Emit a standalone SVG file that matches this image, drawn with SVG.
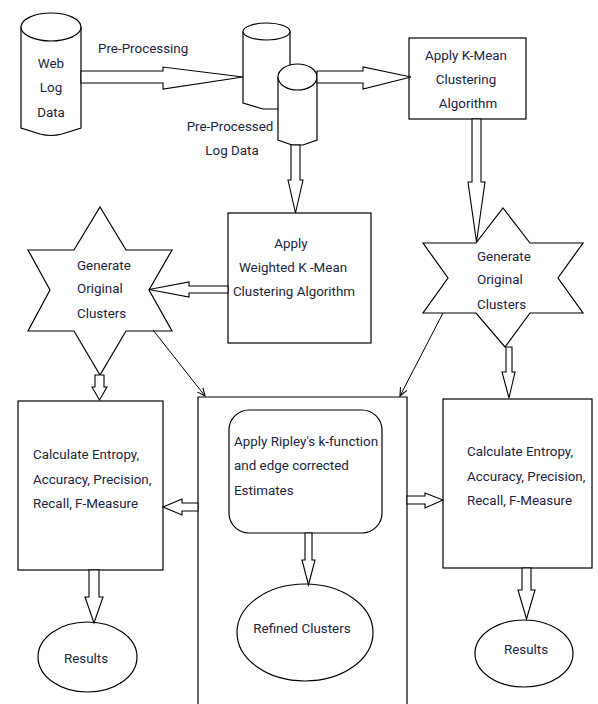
<svg xmlns="http://www.w3.org/2000/svg" width="598" height="704" viewBox="0 0 598 704">
<defs>
<style>
.s{fill:#fff;stroke:#000;stroke-width:1.2}
.a{fill:#fff;stroke:#000;stroke-width:1.1;stroke-linejoin:miter}
.l{fill:none;stroke:#000;stroke-width:1}
text{font-family:Roboto,"Liberation Sans",Arial,sans-serif;font-size:13.4px;fill:#1c2540}
.m{text-anchor:middle}
</style>
<marker id="v" viewBox="0 0 10 10" refX="9" refY="5" markerWidth="9" markerHeight="9" orient="auto" markerUnits="userSpaceOnUse">
<path d="M0,1 L9,5 L0,9" fill="none" stroke="#000" stroke-width="1.2"/>
</marker>
</defs>
<rect width="598" height="704" fill="#fff"/>

<g id="web-log-data">
<path class="s" d="M21,27 L21,128 L40,134 Q51,137 62,134 L81,128 L81,27"/>
<ellipse class="s" cx="51" cy="27" rx="30" ry="14"/>
<text class="m" x="51" y="68">Web</text>
<text class="m" x="51" y="92">Log</text>
<text class="m" x="51" y="117">Data</text>
</g>

<g id="pre-processed-log-data">
<path class="s" d="M243,31.5 L243,103 L263,109 L290,109 L290,31.5"/>
<ellipse class="s" cx="266.5" cy="31.5" rx="23.5" ry="8.5"/>
<path class="s" d="M278,77 L278,140 L292,145 L303,145 L317,140 L317,77"/>
<ellipse class="s" cx="297.5" cy="77" rx="19.5" ry="13"/>
<text class="m" x="230" y="131">Pre-Processed</text>
<text class="m" x="232" y="155">Log Data</text>
</g>

<g id="apply-kmean">
<rect class="s" x="409" y="38" width="117" height="81"/>
<text class="m" x="466" y="60">Apply K-Mean</text>
<text class="m" x="466" y="84">Clustering</text>
<text class="m" x="468" y="108">Algorithm</text>
</g>

<g id="apply-weighted-kmean">
<rect class="s" x="228" y="213" width="143" height="130"/>
<text class="m" x="291" y="248">Apply</text>
<text class="m" x="293" y="272">Weighted K -Mean</text>
<text class="m" x="294" y="296">Clustering Algorithm</text>
</g>

<g id="generate-clusters-left">
<polygon class="s" points="100,207 126,250 172,250 149,290 172,331 126,331 100,375 74,331 28,331 50,290 28,250 74,250"/>
<text x="77" y="270">Generate</text>
<text x="77" y="293">Original</text>
<text x="77" y="318">Clusters</text>
</g>

<g id="generate-clusters-right">
<polygon class="s" points="503,208 530,243 583,243 558,278 583,313 530,313 505,347 476,313 423,313 448,278 423,243 476,243"/>
<text x="477" y="261">Generate</text>
<text x="477" y="284">Original</text>
<text x="477" y="309">Clusters</text>
</g>

<g id="metrics-left">
<rect class="s" x="18" y="401" width="145" height="169"/>
<text x="33" y="459">Calculate Entropy,</text>
<text x="33" y="484">Accuracy, Precision,</text>
<text x="33" y="508">Recall, F-Measure</text>
</g>

<g id="refinement">
<path class="s" d="M198,704 L198,397 L407,397 L407,704"/>
</g>

<g id="ripley">
<rect class="s" x="229" y="410" width="153" height="123" rx="20" ry="20"/>
<text x="234" y="446">Apply Ripley's k-function</text>
<text x="234" y="470">and edge corrected</text>
<text x="234" y="495">Estimates</text>
</g>

<g id="refined-clusters">
<ellipse class="s" cx="305" cy="632.5" rx="68" ry="48.5"/>
<text class="m" x="302" y="633">Refined Clusters</text>
</g>

<g id="metrics-right">
<rect class="s" x="443" y="399" width="149" height="169"/>
<text x="467" y="456">Calculate Entropy,</text>
<text x="467" y="481">Accuracy, Precision,</text>
<text x="467" y="505">Recall, F-Measure</text>
</g>

<g id="results-left">
<ellipse class="s" cx="87.5" cy="657" rx="49.5" ry="35"/>
<text class="m" x="86" y="663">Results</text>
</g>

<g id="results-right">
<ellipse class="s" cx="524" cy="653.5" rx="49" ry="33.5"/>
<text class="m" x="526" y="654">Results</text>
</g>

<g id="connectors">
<polygon class="a" points="81,71 163,71 163,67 243,77 163,89 163,83 81,83"/>
<text x="98" y="53">Pre-Processing</text>
<polygon class="a" points="317,71 363,71 363,67 411,77 363,89 363,83 317,83"/>
<polygon class="a" points="472,119 481,119 481,182 485,182 476.5,242 468,182 472,182"/>
<polygon class="a" points="291,145 300,145 300,180 303,180 295.5,213 288,180 291,180"/>
<polygon class="a" points="228,286 189,286 189,282 149,289.5 189,297 189,293 228,293"/>
<polygon class="a" points="95,375 104,375 104,387 107,387 99.5,400 92,387 95,387"/>
<polygon class="a" points="506,347 512,347 512,372 515,372 509,398 502,372 506,372"/>
<polygon class="a" points="89,570 99,570 99,597 103,597 94,623 85,597 89,597"/>
<polygon class="a" points="522,568 531,568 531,590 535,590 526.5,619 518,590 522,590"/>
<polygon class="a" points="198,503 182,503 182,499 163,507 182,515 182,511 198,511"/>
<polygon class="a" points="407,496 425,496 425,493 443,500 425,508 425,504 407,504"/>
<polygon class="a" points="305,533 312,533 312,560 315,560 308.5,585 302,560 305,560"/>
<line class="l" x1="153" y1="330" x2="205" y2="396" marker-end="url(#v)"/>
<line class="l" x1="443" y1="313" x2="400" y2="396" marker-end="url(#v)"/>
</g>
</svg>
